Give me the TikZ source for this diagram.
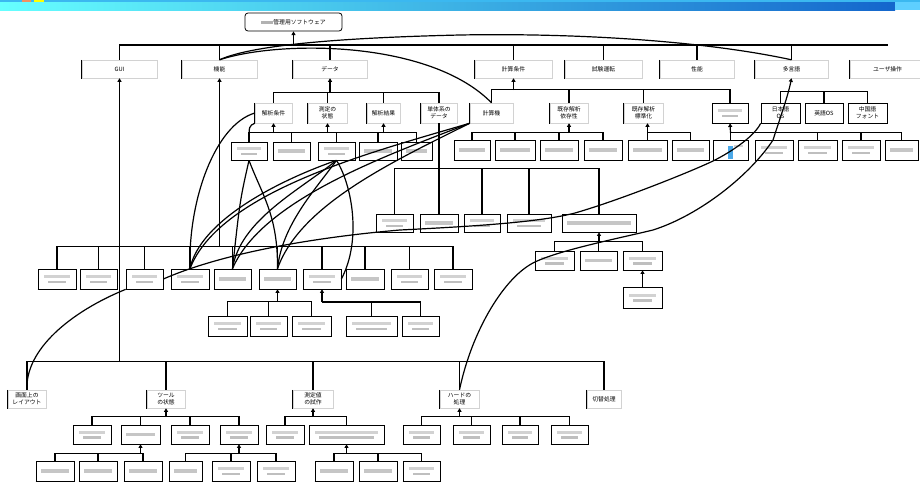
\documentclass[tikz,border=0pt]{standalone}
\usepackage{fontspec}
\newfontfamily\jp{Noto Sans CJK JP}
\usetikzlibrary{arrows.meta}
\definecolor{hdtop}{HTML}{3BB8F0}
\definecolor{hdl}{HTML}{66FFFF}
\definecolor{hdm}{HTML}{55D4F2}
\definecolor{hdr}{HTML}{1466CC}
\definecolor{hdx}{HTML}{5ECFFF}
\definecolor{hdo}{HTML}{F09060}
\definecolor{hdy}{HTML}{FFFF00}
\definecolor{blot}{HTML}{4AA8E8}
\begin{document}
\begin{tikzpicture}[x=1pt,y=-1pt,
  bus/.style={line width=1.1pt},
  up/.style={line width=1.2pt,-{Triangle[length=3.6pt,width=4pt]}},
  cv/.style={line width=1.2pt},
  base/.style={rectangle, inner sep=0pt, align=center, font=\jp\fontsize{5.8}{6.8}\selectfont},
  bxa/.style={base, draw=gray!35, line width=0.4pt,
    append after command={\pgfextra{\draw[line width=0.9pt] (\tikzlastnode.north west) |- (\tikzlastnode.south east) -- (\tikzlastnode.north east);}}},
  bxb/.style={base, draw=black, line width=0.7pt,
    append after command={\pgfextra{\draw[line width=1.2pt] (\tikzlastnode.south west) -- (\tikzlastnode.south east);}}},
  bl/.style={bxb, path picture={\fill[gray!45] ([xshift=5pt,yshift=-1.6pt]path picture bounding box.west) rectangle ([xshift=-5pt,yshift=1.6pt]path picture bounding box.east);}},
  bl2/.style={bxb, path picture={\fill[gray!35] ([xshift=6pt,yshift=1pt]path picture bounding box.west) rectangle ([xshift=-6pt,yshift=3.6pt]path picture bounding box.east);
      \fill[gray!50] ([xshift=10pt,yshift=-1.8pt]path picture bounding box.west) rectangle ([xshift=-10pt,yshift=-4.4pt]path picture bounding box.east);}},
  hm/.style={minimum height=20pt},
  hs/.style={minimum height=18pt},
]
\useasboundingbox (0,0) rectangle (920,482);
% header
\fill[hdtop] (0,0) rectangle (920,2);
\shade[left color=hdl, middle color=hdm, right color=hdr] (0,2) rectangle (895,10);
\fill[hdx] (895,2) rectangle (920,10);
\fill[hdo] (22,0) rectangle (31,2);
\fill[hdy] (34,0) rectangle (44,2);

% root
\node[base, draw, rounded corners=3pt, line width=0.8pt, minimum width=97pt, minimum height=18pt] (root) at (293.5,22) {{\color{gray!60}\rule[0.6pt]{12pt}{3pt}}管理用ソフトウェア};

% level 1
\node[bxa,hs,minimum width=75pt] (gui) at (119.5,69) {GUI};
\node[bxa,hs,minimum width=75pt] (kino) at (219.5,69) {機能};
\node[bxa,hs,minimum width=74pt] (data) at (330,69) {データ};
\node[bxa,hs,minimum width=77pt] (keisan) at (513.5,69) {計算条件};
\node[bxa,hs,minimum width=77pt] (shiken) at (603.5,69) {試験運転};
\node[bxa,hs,minimum width=74pt] (seino) at (697,69) {性能};
\node[bxa,hs,minimum width=73pt] (tagen) at (791.5,69) {多言語};
\node[bxa,hs,minimum width=75pt] (user) at (887.5,69) {ユーザ操作};

% level 3
\node[bxa,hm,minimum width=37pt] (kjoken) at (273.5,113) {解析条件};
\node[bxa,hm,minimum width=39pt] (sokutei) at (327.5,113) {測定の\\状態};
\node[bxa,hm,minimum width=33pt] (kkekka) at (383.5,113) {解析結果};
\node[bxa,hm,minimum width=36pt] (tanta) at (439,113) {単体系の\\データ};
\node[bxa,hm,minimum width=43pt] (keisanki) at (491.5,113) {計算機};
\node[bxa,hm,minimum width=38pt] (izon) at (569,113) {既存解析\\依存性};
\node[bxa,hm,minimum width=39pt] (hyojun) at (643.5,113) {既存解析\\標準化};
\node[bl2,hm,minimum width=36pt] (blu) at (730,113) {};
\node[bxb,hm,minimum width=39pt] (jpos) at (780.5,113) {日本語\\OS};
\node[bxb,hm,minimum width=38pt] (enos) at (824,113) {英語OS};
\node[bxb,hm,minimum width=39pt] (cnf) at (867.5,113) {中国語\\フォント};

% level 4 left
\node[bl2,hs,minimum width=36pt] (L1) at (249,151) {};
\node[bl,hs,minimum width=37pt] (L2) at (291.5,151) {};
\node[bl2,hs,minimum width=37pt] (L3) at (336.5,151) {};
\node[bl,hs,minimum width=38pt] (L4) at (378,151) {};
\node[bl,hs,minimum width=31pt] (L5) at (416.5,151) {};
% level 4 right
\node[bl,hm,minimum width=36pt] (R1) at (472,150) {};
\node[bl,hm,minimum width=40pt] (R2) at (515,150) {};
\node[bl,hm,minimum width=38pt] (R3) at (559,150) {};
\node[bl,hm,minimum width=38pt] (R4) at (603,150) {};
\node[bl,hm,minimum width=39pt] (R5) at (647.5,150) {};
\node[bl,hm,minimum width=37pt] (R6) at (690.5,150) {};
\node[bxb,hm,minimum width=35pt, path picture={\fill[blot] ([xshift=-3pt,yshift=-9pt]path picture bounding box.center) rectangle ([xshift=2pt,yshift=4pt]path picture bounding box.center); \fill[gray!35] ([xshift=3pt,yshift=3pt]path picture bounding box.center) rectangle ([xshift=12pt,yshift=5pt]path picture bounding box.center);}] (R7) at (730.5,150) {};
\node[bl2,hm,minimum width=38pt] (R8) at (774,150) {};
\node[bl2,hm,minimum width=39pt] (R9) at (817.5,150) {};
\node[bl2,hm,minimum width=38pt] (R10) at (861,150) {};
\node[bl,hm,minimum width=33pt] (R11) at (901.5,150) {};

% level 5
\node[bl2,hs,minimum width=37pt] (F1) at (394.5,223) {};
\node[bl,hs,minimum width=38pt] (F2) at (439,223) {};
\node[bl2,hs,minimum width=36pt] (F3) at (482,223) {};
\node[bl2,hs,minimum width=44pt] (F4) at (529,223) {};
\node[bl,hs,minimum width=74pt] (F5) at (599,223) {};
% level 6
\node[bl2,minimum height=19pt,minimum width=39pt] (S1) at (554.5,260.5) {};
\node[bl,minimum height=19pt,minimum width=37pt] (S2) at (598.5,260.5) {};
\node[bl2,minimum height=19pt,minimum width=39pt] (S3) at (642.5,260.5) {};
\node[bl2,minimum height=21pt,minimum width=39pt] (S4) at (642.5,297.5) {};

% row M
\node[bl2,hm,minimum width=38pt] (M1) at (57,279) {};
\node[bl2,hm,minimum width=37pt] (M2) at (98.5,279) {};
\node[bl2,hm,minimum width=37pt] (M3) at (144.5,279) {};
\node[bl2,hm,minimum width=38pt] (M4) at (190,279) {};
\node[bl,hm,minimum width=37pt] (M5) at (232.5,279) {};
\node[bl,hm,minimum width=37pt] (M6) at (277.5,279) {};
\node[bl2,hm,minimum width=38pt] (M7) at (322,279) {};
\node[bl,hm,minimum width=38pt] (M8) at (365,279) {};
\node[bl2,hm,minimum width=37pt] (M9) at (409.5,279) {};
\node[bl2,hm,minimum width=38pt] (M10) at (453,279) {};
% row N
\node[bl2,hm,minimum width=39pt] (N1) at (227.5,326) {};
\node[bl2,hm,minimum width=37pt] (N2) at (268.5,326) {};
\node[bl2,hm,minimum width=39pt] (N3) at (311.5,326) {};
\node[bl2,hm,minimum width=51pt] (N4) at (371.5,326) {};
\node[bl2,hm,minimum width=37pt] (N5) at (420.5,326) {};

% bottom row B
\node[bxa,hs,minimum width=38pt] (B1) at (27,399) {画面上の\\レイアウト};
\node[bxa,hs,minimum width=38pt] (B2) at (166,399) {ツール\\の状態};
\node[bxa,hs,minimum width=40pt] (B3) at (313,399) {測定値\\の試作};
\node[bxa,hs,minimum width=39pt] (B4) at (459.5,399) {ハードの\\処理};
\node[bxa,hs,minimum width=34pt] (B5) at (604,399) {切替処理};
% row C
\node[bl2,minimum height=19pt,minimum width=38pt] (C1) at (92,434.5) {};
\node[bl,minimum height=19pt,minimum width=39pt] (C2) at (140.5,434.5) {};
\node[bl2,minimum height=19pt,minimum width=38pt] (C3) at (190,434.5) {};
\node[bl2,minimum height=19pt,minimum width=38pt] (C4) at (239,434.5) {};
\node[bl2,minimum height=19pt,minimum width=38pt] (C5) at (285,434.5) {};
\node[bl2,minimum height=19pt,minimum width=75pt] (C6) at (346.5,434.5) {};
\node[bl2,minimum height=19pt,minimum width=37pt] (C7) at (421.5,434.5) {};
\node[bl2,minimum height=19pt,minimum width=37pt] (C8) at (471.5,434.5) {};
\node[bl2,minimum height=19pt,minimum width=36pt] (C9) at (520,434.5) {};
\node[bl2,minimum height=19pt,minimum width=37pt] (C10) at (569.5,434.5) {};
% row D
\node[bl,hm,minimum width=38pt] (D1) at (55,471) {};
\node[bl,hm,minimum width=38pt] (D2) at (98,471) {};
\node[bl,hm,minimum width=38pt] (D3) at (143,471) {};
\node[bl,hm,minimum width=33pt] (D4) at (185.5,471) {};
\node[bl2,hm,minimum width=38pt] (D5) at (231,471) {};
\node[bl2,hm,minimum width=38pt] (D6) at (276,471) {};
\node[bl,hm,minimum width=38pt] (D7) at (334,471) {};
\node[bl,hm,minimum width=38pt] (D8) at (378,471) {};
\node[bl2,hm,minimum width=37pt] (D9) at (421.5,471) {};

% ---- tree connectors
\coordinate (busR) at (888,45);
\draw[bus] (gui.north) |- (busR);
\foreach \n in {kino,data,keisan,shiken,seino,tagen} \draw[bus] (\n.north) -- (\n.north |- busR);
\draw[up] (root.south |- busR) -- (root.south);

\draw[bus] (kjoken.north) -- ++(0,-10) -| (tanta.north);
\foreach \n in {sokutei,kkekka} \draw[bus] (\n.north) -- ++(0,-10);
\draw[up] (data.south |- 0,93) -- (data.south);

\draw[bus] (keisanki.north) -- ++(0,-13) -| (blu.north);
\foreach \n in {izon,hyojun} \draw[bus] (\n.north) -- ++(0,-13);
\draw[up] (keisan.south |- 0,90) -- (keisan.south);

\draw[bus] (jpos.north) -- ++(0,-11) -| (cnf.north);
\draw[bus] (enos.north) -- ++(0,-11);

\draw[bus] (L1.north) -- ++(0,-9) -| (L5.north);
\foreach \n in {L2,L3,L4} \draw[bus] (\n.north) -- ++(0,-9);
\foreach \n in {kjoken,sokutei,kkekka} \draw[up] (\n.south |- 0,133) -- (\n.south);

\draw[bus] (R1.north) -- ++(0,-7) -| (R4.north);
\foreach \n in {R2,R3} \draw[bus] (\n.north) -- ++(0,-7);
\draw[up] (izon.south |- 0,133) -- (izon.south);
\draw[bus] (R5.north) -- ++(0,-7) -| (R6.north);
\draw[up] (R5.north |- 0,133) -- (R5.north |- hyojun.south);
\draw[bus] (R7.north) -- ++(0,-7) -| (R11.north);
\foreach \n in {R9,R10} \draw[bus] (\n.north) -- ++(0,-7);
\draw[up] (R7.north |- 0,133) -- (blu.south);

\draw[bus] (tanta.south) -- (F2.north);
\draw[bus] (F1.north) -- ++(0,-45) -| (F5.north);
\foreach \n in {F3,F4} \draw[bus] (\n.north) -- ++(0,-45);

\draw[bus] (S1.north) -- ++(0,-9) -| (S3.north);
\draw[bus] (S2.north) -- ++(0,-9);
\draw[up] (F5.south |- 0,242) -- (F5.south);
\draw[up] (S4.north) -- (S3.south);

\draw[bus] (M1.north) -- ++(0,-22) -| (M10.north);
\foreach \n in {M2,M3,M4,M5,M6,M7,M8,M9} \draw[bus] (\n.north) -- ++(0,-22);
\draw[up] (kino.south |- 0,247) -- (kino.south);

\draw[bus] (N1.north) -- ++(0,-14) -| (N3.north);
\draw[bus] (N2.north) -- ++(0,-14);
\draw[up] (M6.south |- 0,302) -- (M6.south);
\draw[bus] (M7.south |- 0,302) -| (N5.north);
\draw[bus] (N4.north) -- ++(0,-14);
\draw[up] (M7.south |- 0,302) -- (M7.south);

\draw[up] (gui.south |- 0,362) -- (gui.south);
\draw[bus] (B1.north) -- ++(0,-28) -| (B5.north);
\foreach \n in {B2,B3,B4} \draw[bus] (\n.north) -- ++(0,-28);

\draw[bus] (C1.north) -- ++(0,-8) -| (C4.north);
\foreach \n in {C2,C3} \draw[bus] (\n.north) -- ++(0,-8);
\draw[up] (B2.south |- 0,417) -- (B2.south);
\draw[bus] (C5.north) -- ++(0,-8) -| (C6.north);
\draw[up] (B3.south |- 0,417) -- (B3.south);
\draw[bus] (C7.north) -- ++(0,-8) -| (C10.north);
\foreach \n in {C8,C9} \draw[bus] (\n.north) -- ++(0,-8);
\draw[up] (B4.south |- 0,417) -- (B4.south);

\draw[bus] (D1.north) -- ++(0,-7) -| (D3.north);
\draw[bus] (D2.north) -- ++(0,-7);
\draw[up] (C2.south |- 0,454) -- (C2.south);
\draw[bus] (D4.north) -- ++(0,-7) -| (D6.north);
\draw[bus] (D5.north) -- ++(0,-7);
\draw[up] (C4.south |- 0,454) -- (C4.south);
\draw[bus] (D7.north) -- ++(0,-7) -| (D9.north);
\draw[bus] (D8.north) -- ++(0,-7);
\draw[up] (C6.south |- 0,454) -- (C6.south);

% ---- cross-link curves
\draw[cv] (kino.north) .. controls (250,46) and (330,38) .. (460,35) .. controls (570,33) and (700,40) .. (tagen.north);
\draw[cv] (kino.north) .. controls (280,40) and (430,40) .. (keisanki.north);
\draw[cv,-{Triangle[length=3.6pt,width=4pt]}] (B4.north) .. controls (472,330) and (505,276) .. (535,262) .. controls (560,250) and (620,238) .. (653,230) .. controls (700,215) and (750,175) .. (773,140) .. controls (780,118) and (788,96) .. (tagen.south);
\draw[cv] (M3.east) .. controls (230,250) and (330,236) .. (400,230) .. controls (480,226) and (540,222) .. (575,213) .. controls (620,200) and (690,172) .. (713,161) .. controls (735,150) and (755,135) .. (jpos.south west);
\draw[cv] (M3.south west) .. controls (70,312) and (25,350) .. (B1.north);
\draw[cv] (kjoken.west) .. controls (215,125) and (188,200) .. (M4.north);
\draw[cv] (kjoken.south west) .. controls (249,126) .. (L1.north);
\draw[cv] (L1.south) .. controls (240,200) .. (M5.north);
\draw[cv] (L1.south) .. controls (262,195) and (278,215) .. (M6.north);
\draw[cv] (L3.south) .. controls (280,180) and (200,220) .. (M4.north);
\draw[cv] (L3.south) .. controls (300,190) and (240,220) .. (M5.north);
\draw[cv] (L3.south) .. controls (315,190) and (282,225) .. (M6.north);
\draw[cv] (L3.south) .. controls (352,185) and (362,240) .. (M7.east);
\draw[cv] (keisanki.south west) .. controls (380,150) and (220,190) .. (M4.north);
\draw[cv] (keisanki.south west) .. controls (385,156) and (262,200) .. (M5.north);
\draw[cv] (keisanki.south west) .. controls (392,162) and (300,205) .. (M6.north);
\end{tikzpicture}
\end{document}
